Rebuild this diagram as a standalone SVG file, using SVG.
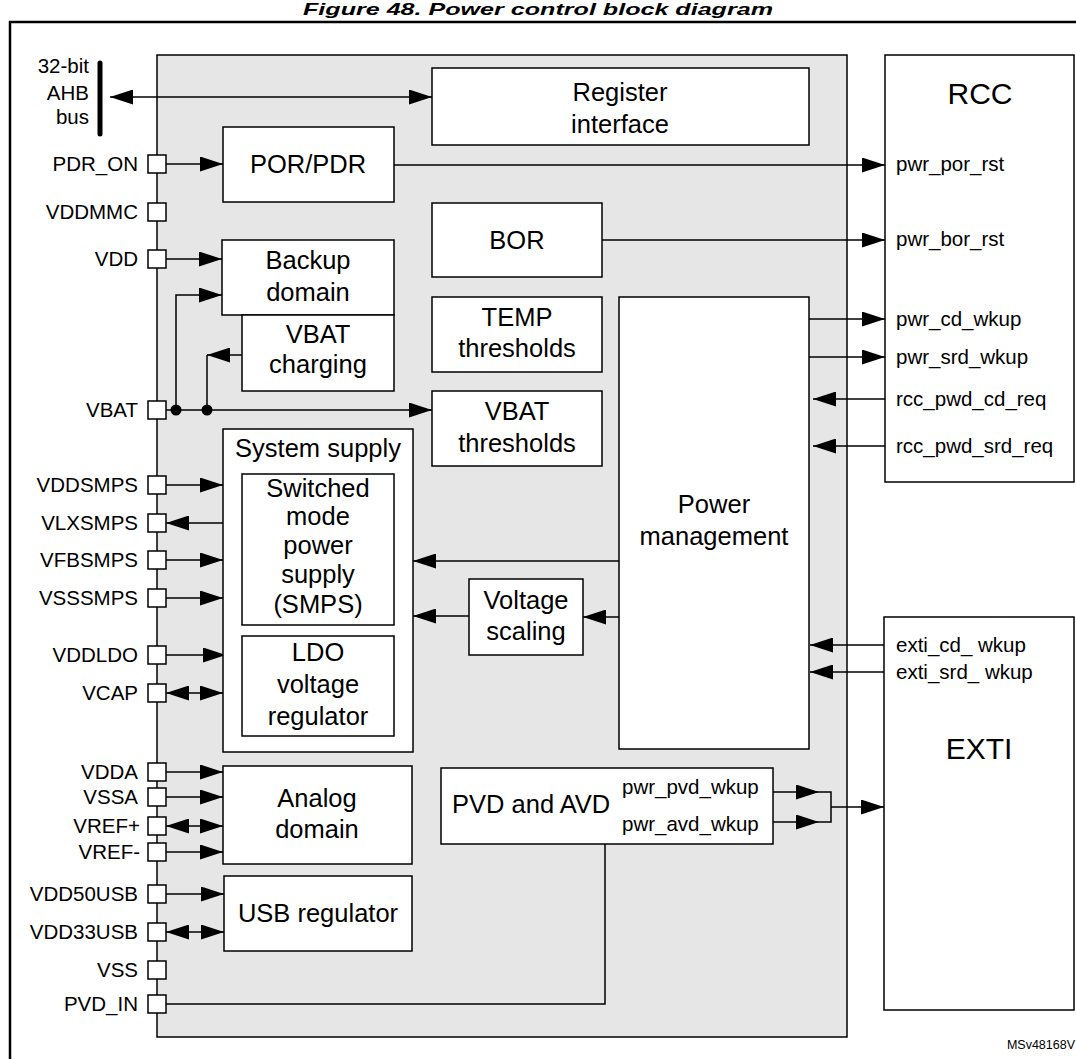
<svg xmlns="http://www.w3.org/2000/svg" width="1076" height="1059" viewBox="0 0 1076 1059">
<defs>
<style>
.box{fill:#fff;stroke:#000;stroke-width:1.5}
.pin{fill:#fff;stroke:#000;stroke-width:1.5}
.ln{fill:none;stroke:#000;stroke-width:1.5}
.ar{fill:none;stroke:#000;stroke-width:1.5;marker-end:url(#ah)}
.da{fill:none;stroke:#000;stroke-width:1.5;marker-start:url(#ah);marker-end:url(#ah)}
text{font-family:"Liberation Sans",Arial,sans-serif;fill:#000}
.lb{font-size:25.5px;text-anchor:middle}
.pl{font-size:20.5px;text-anchor:end}
.sl{font-size:20.5px}
.big{font-size:30px;text-anchor:middle}
</style>
<marker id="ah" markerUnits="userSpaceOnUse" markerWidth="23" markerHeight="15" viewBox="0 0 23 15" refX="23" refY="7.5" orient="auto-start-reverse">
<path d="M0,0 L23,7.5 L0,15 z" fill="#000"/>
</marker>
</defs>
<rect width="1076" height="1059" fill="#fff"/>
<text x="538" y="15" font-size="17" font-weight="bold" font-style="italic" text-anchor="middle" textLength="470" lengthAdjust="spacingAndGlyphs">Figure 48. Power control block diagram</text>
<rect x="10" y="22" width="1090" height="1100" fill="none" stroke="#000" stroke-width="2.5"/>
<g id="pwr-block">
<rect x="157" y="55" width="690" height="982" fill="#e6e6e6" stroke="#000" stroke-width="1.5"/>
</g>
<g id="connectors">
<line x1="100" y1="63" x2="100" y2="134" stroke="#000" stroke-width="5" stroke-linecap="round"/>
<line x1="110" y1="97" x2="432" y2="97" class="da" stroke-width="3"/>
<line x1="166" y1="164" x2="223" y2="164" class="ar"/>
<line x1="166" y1="259" x2="222" y2="259" class="ar"/>
<line x1="166" y1="410" x2="432" y2="410" class="ar"/>
<path d="M176,410 V295 H222" class="ar"/>
<path d="M242,355 H207" class="ar"/>
<path d="M207,355 V410" class="ln"/>
<circle cx="176" cy="410" r="5.5"/>
<circle cx="207" cy="410" r="5.5"/>
<line x1="394" y1="165" x2="885" y2="165" class="ar"/>
<line x1="602" y1="240" x2="885" y2="240" class="ar"/>
<line x1="809" y1="319" x2="885" y2="319" class="ar" stroke-width="2"/>
<line x1="809" y1="357" x2="885" y2="357" class="ar" stroke-width="2"/>
<line x1="885" y1="399" x2="813" y2="399" class="ar"/>
<line x1="885" y1="446" x2="813" y2="446" class="ar"/>
<line x1="166" y1="485" x2="223" y2="485" class="ar"/>
<line x1="223" y1="523" x2="166" y2="523" class="ar"/>
<line x1="166" y1="560" x2="223" y2="560" class="ar"/>
<line x1="166" y1="598" x2="223" y2="598" class="ar"/>
<line x1="166" y1="655" x2="226" y2="655" class="ar"/>
<line x1="166" y1="693" x2="223" y2="693" class="da"/>
<line x1="619" y1="561" x2="413" y2="561" class="ar"/>
<line x1="469" y1="616" x2="413" y2="616" class="ar"/>
<line x1="619" y1="617" x2="583" y2="617" class="ar"/>
<line x1="884" y1="645" x2="810" y2="645" class="ar" stroke-width="2"/>
<line x1="884" y1="672" x2="810" y2="672" class="ar"/>
<line x1="166" y1="772" x2="223" y2="772" class="ar"/>
<line x1="166" y1="797" x2="223" y2="797" class="ar"/>
<line x1="166" y1="826" x2="223" y2="826" class="da"/>
<line x1="166" y1="852" x2="223" y2="852" class="ar"/>
<line x1="166" y1="894" x2="224" y2="894" class="ar"/>
<line x1="166" y1="932" x2="224" y2="932" class="da"/>
<path d="M166,1004 H605 V844" class="ln"/>
<line x1="773" y1="792" x2="819" y2="792" class="ar" stroke-width="2"/>
<line x1="773" y1="822" x2="819" y2="822" class="ar" stroke-width="2"/>
<path d="M819,792 H831 V822 H819" class="ln"/>
<line x1="831" y1="807" x2="884" y2="807" class="ar" stroke-width="2"/>
</g>
<g id="ahb-label">
<text x="89" y="73" class="pl">32-bit</text>
<text x="89" y="100" class="pl">AHB</text>
<text x="89" y="124" class="pl">bus</text>
</g>
<g id="register-interface">
<rect x="432" y="68" width="377" height="77" class="box"/>
<text x="620" y="101" class="lb">Register</text>
<text x="620" y="133" class="lb">interface</text>
</g>
<g id="por-pdr">
<rect x="223" y="127" width="171" height="75" class="box"/>
<text x="308" y="173" class="lb">POR/PDR</text>
</g>
<g id="backup-domain">
<rect x="222" y="240" width="172" height="75" class="box"/>
<text x="308" y="269" class="lb">Backup</text>
<text x="308" y="301" class="lb">domain</text>
</g>
<g id="vbat-charging">
<rect x="242" y="315" width="152" height="76" class="box"/>
<text x="318" y="343" class="lb">VBAT</text>
<text x="318" y="373" class="lb">charging</text>
</g>
<g id="bor">
<rect x="432" y="203" width="170" height="74" class="box"/>
<text x="517" y="249" class="lb">BOR</text>
</g>
<g id="temp-thresholds">
<rect x="432" y="297" width="170" height="75" class="box"/>
<text x="517" y="326" class="lb">TEMP</text>
<text x="517" y="357" class="lb">thresholds</text>
</g>
<g id="vbat-thresholds">
<rect x="432" y="391" width="170" height="75" class="box"/>
<text x="517" y="420" class="lb">VBAT</text>
<text x="517" y="452" class="lb">thresholds</text>
</g>
<g id="power-management">
<rect x="619" y="297" width="190" height="452" class="box"/>
<text x="714" y="513" class="lb">Power</text>
<text x="714" y="545" class="lb">management</text>
</g>
<g id="system-supply">
<rect x="223" y="429" width="190" height="323" class="box"/>
<text x="318" y="457" class="lb">System supply</text>
</g>
<g id="smps">
<rect x="242" y="474" width="152" height="151" class="box"/>
<text x="318" y="497" class="lb">Switched</text>
<text x="318" y="525" class="lb">mode</text>
<text x="318" y="554" class="lb">power</text>
<text x="318" y="583" class="lb">supply</text>
<text x="318" y="613" class="lb">(SMPS)</text>
</g>
<g id="ldo">
<rect x="242" y="636" width="152" height="100" class="box"/>
<text x="318" y="661" class="lb">LDO</text>
<text x="318" y="693" class="lb">voltage</text>
<text x="318" y="725" class="lb">regulator</text>
</g>
<g id="voltage-scaling">
<rect x="469" y="579" width="114" height="76" class="box"/>
<text x="526" y="609" class="lb">Voltage</text>
<text x="526" y="640" class="lb">scaling</text>
</g>
<g id="analog-domain">
<rect x="223" y="766" width="189" height="98" class="box"/>
<text x="317" y="807" class="lb">Analog</text>
<text x="317" y="838" class="lb">domain</text>
</g>
<g id="usb-regulator">
<rect x="224" y="876" width="188" height="75" class="box"/>
<text x="318" y="922" class="lb">USB regulator</text>
</g>
<g id="pvd-avd">
<rect x="441" y="768" width="332" height="76" class="box"/>
<text x="452" y="813" font-size="25.5">PVD and AVD</text>
<text x="622" y="794" class="sl">pwr_pvd_wkup</text>
<text x="622" y="831" class="sl">pwr_avd_wkup</text>
</g>
<g id="rcc">
<rect x="885" y="55" width="189" height="427" class="box"/>
<text x="980" y="104" class="big">RCC</text>
<text x="896" y="171" class="sl">pwr_por_rst</text>
<text x="896" y="246" class="sl">pwr_bor_rst</text>
<text x="896" y="326" class="sl">pwr_cd_wkup</text>
<text x="896" y="364" class="sl">pwr_srd_wkup</text>
<text x="896" y="406" class="sl">rcc_pwd_cd_req</text>
<text x="896" y="453" class="sl">rcc_pwd_srd_req</text>
</g>
<g id="exti">
<rect x="884" y="617" width="190" height="393" class="box"/>
<text x="979" y="759" class="big">EXTI</text>
<text x="896" y="652" class="sl">exti_cd_ wkup</text>
<text x="896" y="679" class="sl">exti_srd_ wkup</text>
</g>
<g id="pins">
<rect x="148" y="155" width="18" height="18" class="pin"/><text x="138" y="171" class="pl">PDR_ON</text>
<rect x="148" y="203" width="18" height="18" class="pin"/><text x="138" y="219" class="pl">VDDMMC</text>
<rect x="148" y="250" width="18" height="18" class="pin"/><text x="138" y="266" class="pl">VDD</text>
<rect x="148" y="401" width="18" height="18" class="pin"/><text x="138" y="417" class="pl">VBAT</text>
<rect x="148" y="476" width="18" height="18" class="pin"/><text x="138" y="492" class="pl">VDDSMPS</text>
<rect x="148" y="514" width="18" height="18" class="pin"/><text x="138" y="530" class="pl">VLXSMPS</text>
<rect x="148" y="551" width="18" height="18" class="pin"/><text x="138" y="567" class="pl">VFBSMPS</text>
<rect x="148" y="589" width="18" height="18" class="pin"/><text x="138" y="605" class="pl">VSSSMPS</text>
<rect x="148" y="646" width="18" height="18" class="pin"/><text x="138" y="662" class="pl">VDDLDO</text>
<rect x="148" y="684" width="18" height="18" class="pin"/><text x="138" y="700" class="pl">VCAP</text>
<rect x="148" y="763" width="18" height="18" class="pin"/><text x="138" y="779" class="pl">VDDA</text>
<rect x="148" y="788" width="18" height="18" class="pin"/><text x="138" y="804" class="pl">VSSA</text>
<rect x="148" y="817" width="18" height="18" class="pin"/><text x="140" y="833" class="pl">VREF+</text>
<rect x="148" y="843" width="18" height="18" class="pin"/><text x="140" y="859" class="pl">VREF-</text>
<rect x="148" y="885" width="18" height="18" class="pin"/><text x="138" y="901" class="pl">VDD50USB</text>
<rect x="148" y="923" width="18" height="18" class="pin"/><text x="138" y="939" class="pl">VDD33USB</text>
<rect x="148" y="961" width="18" height="18" class="pin"/><text x="138" y="977" class="pl">VSS</text>
<rect x="148" y="995" width="18" height="18" class="pin"/><text x="138" y="1011" class="pl">PVD_IN</text>
</g>
<text x="1075" y="1049" font-size="12.5" text-anchor="end">MSv48168V</text>
</svg>
